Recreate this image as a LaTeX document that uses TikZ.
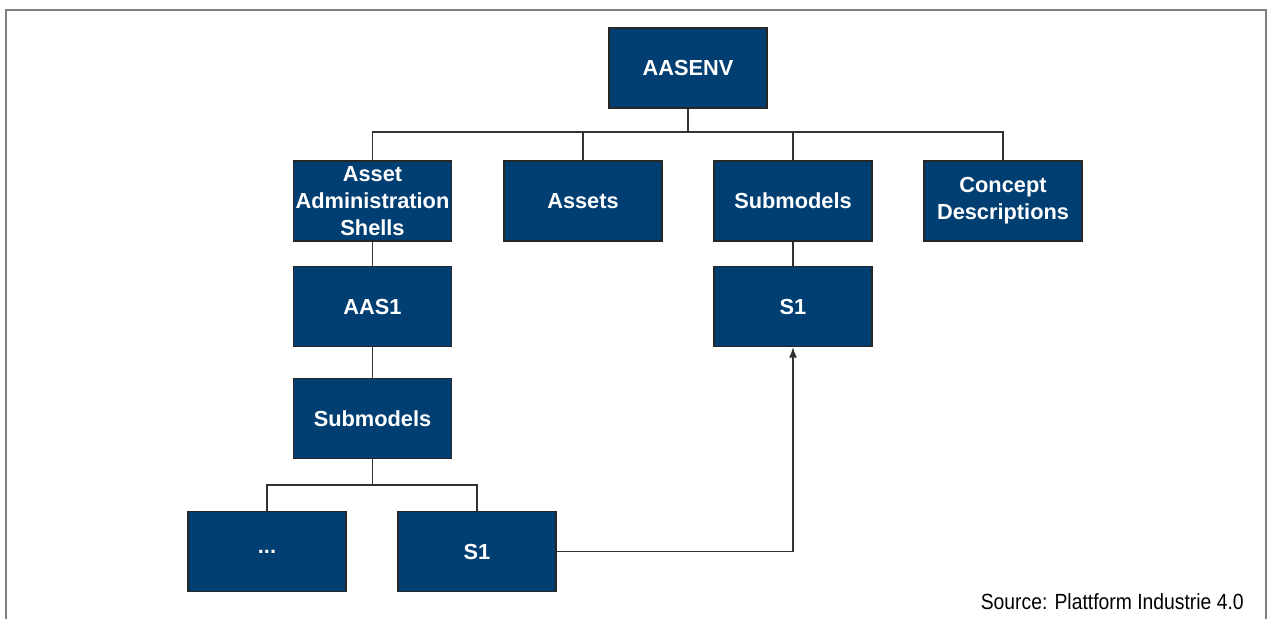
\documentclass[tikz,border=0pt]{standalone}
\usepackage{fontspec}
\setmainfont{Liberation Sans}
\definecolor{aasblue}{RGB}{1,63,115}
\definecolor{aasline}{RGB}{51,51,51}
\usetikzlibrary{arrows.meta,positioning}

\begin{document}
\begin{tikzpicture}[x=0.02cm,y=-0.02cm,
  aasbox/.style={draw=black!85,fill=aasblue,text=white,line width=0.6pt,minimum width=3.16cm,minimum height=1.6cm,inner sep=0pt,align=center,font=\fontsize{12.4}{15.2}\selectfont\bfseries},
  tree/.style={draw=aasline,line width=0.85pt}]
  \useasboundingbox (0,0) rectangle (1268,619);
  % open frame around the figure
  \draw[gray,line width=1pt] (6,619) -- (6,10) -- (1266,10) -- (1266,619);
  \node[aasbox] (env) at (688,68) {AASENV};
  \node[aasbox] (shells) at (372.5,201) {Asset\\Administration\\Shells};
  \node[aasbox] (assets) at (583,201) {Assets};
  \node[aasbox] (subs) at (793,201) {Submodels};
  \node[aasbox] (cds) at (1003,201) {Concept\\Descriptions};
  \node[aasbox] (aas1) at (372.5,306.5) {AAS1};
  \node[aasbox] (aassubs) at (372.5,418.5) {Submodels};
  \node[aasbox] (dots) at (267,551.5) {...};
  \node[aasbox] (s1a) at (477,551.5) {S1};
  \node[aasbox] (s1b) at (793,306.5) {S1};
  \coordinate (bus) at (0,132);
  \coordinate (bus2) at (0,485);
  \draw[tree] (env.south) -- (env.south |- bus);
  \draw[tree] (shells.north) -- (shells.north |- bus) -| (cds.north);
  \draw[tree] (assets.north) -- (assets.north |- bus);
  \draw[tree] (subs.north) -- (subs.north |- bus);
  \draw[tree] (shells) -- (aas1);
  \draw[tree] (aas1) -- (aassubs);
  \draw[tree] (subs) -- (s1b);
  \draw[tree] (aassubs.south) -- (aassubs.south |- bus2);
  \draw[tree] (dots.north) -- (dots.north |- bus2) -| (s1a.north);
  \draw[tree,-{Latex[length=6pt,width=4.5pt]}] (s1a.east) -| (s1b.south);
  \node[anchor=base east,inner sep=0pt,font=\fontsize{12.5}{15}\selectfont] (src) at (1244,609) {\scalebox{0.88}[1]{Source: Plattform Industrie 4.0}};
\end{tikzpicture}
\end{document}
